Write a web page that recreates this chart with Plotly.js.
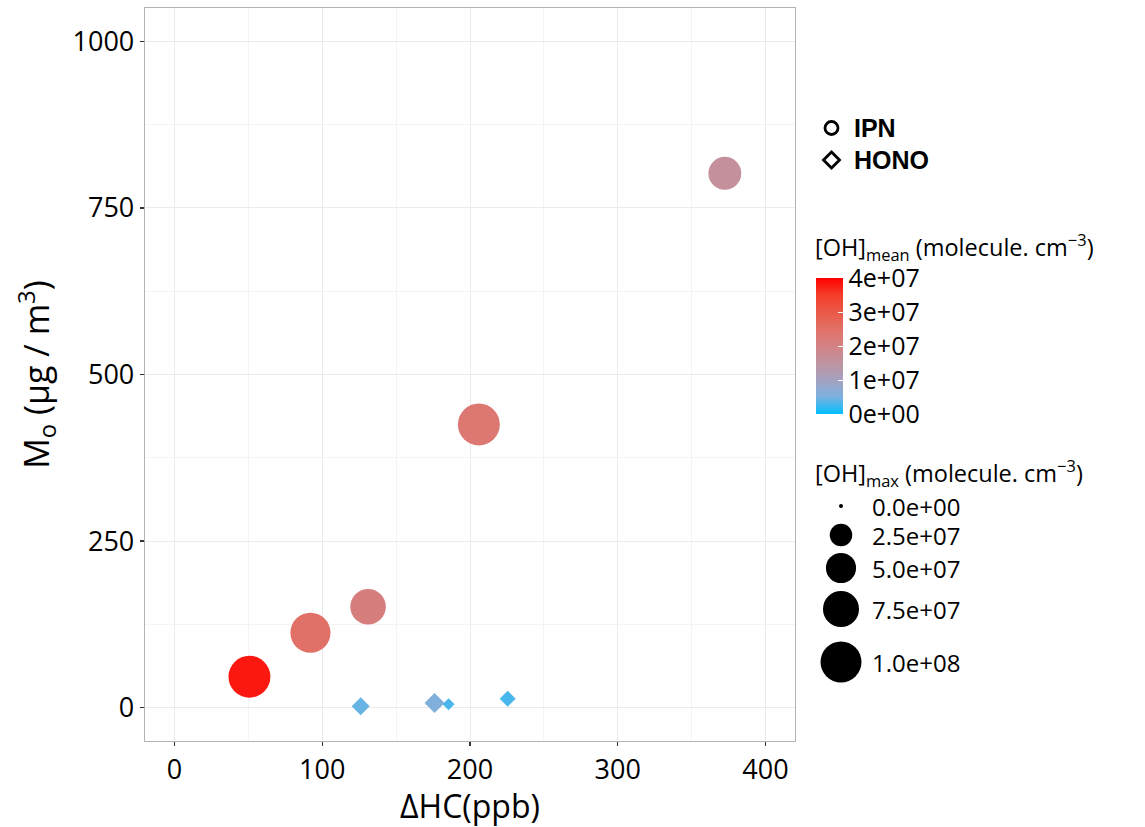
<!DOCTYPE html>
<html><head><meta charset="utf-8">
<script src="https://cdn.plot.ly/plotly-3.0.1.min.js"></script>
<style>body{margin:0;background:#fff}</style>
</head><body><div id="chart" style="width:1145px;height:827px"></div>
<script>
// ---- data ----
const ipnHC = [50.7, 92, 131, 206, 372.5];
const ipnMo = [46.5, 112.5, 151.5, 425, 802];
const ipnOHmean = [3.8e7, 2.48e7, 2.1e7, 2.3e7, 1.6e7];
const ipnOHmax = [1.05e8, 0.95e8, 0.73e8, 1.05e8, 0.61e8];
const honoHC = [126, 176, 185.5, 225.5];
const honoMo = [2, 7, 5, 13.5];
const honoOHmean = [4.2e6, 5.6e6, 3.0e6, 3.0e6];
const honoOHmax = [1.43e7, 1.87e7, 0.47e7, 1.05e7];
const seriesNames = ['IPN', 'HONO'];
const colorTicks = [0, 1e7, 2e7, 3e7, 4e7];
const colorTickText = ['0e+00', '1e+07', '2e+07', '3e+07', '4e+07'];
const sizeBreaks = [0, 2.5e7, 5e7, 7.5e7, 1e8];
const sizeBreakText = ['0.0e+00', '2.5e+07', '5.0e+07', '7.5e+07', '1.0e+08'];

// ---- scales ----
const FONT = 'Open Sans, Noto Sans, sans-serif';
const W = 1145, H = 827, ML = 145, MR = 350, MT = 8, MB = 86;
const PW = W - ML - MR, PH = H - MT - MB;
const px2x = p => (p - ML) / PW;
const px2y = p => (H - MB - p) / PH;
const sizeMax = 1e8;
const diam = v => 4 + 37 * Math.sqrt(Math.max(v, 0) / sizeMax); // ggplot area scale, range 4..41 px
const colorscale = [
  [0, '#00BFFF'], [0.125, '#7BB1DF'], [0.25, '#A4A2C0'], [0.375, '#BF93A1'],
  [0.5, '#D38284'], [0.625, '#E27066'], [0.75, '#EA5847'], [0.875, '#F53D2A'], [1, '#FF0000']
];
const cmin = 0, cmax = 4e7;

const traces = [
  {
    type: 'scatter', mode: 'markers', x: ipnHC, y: ipnMo, name: seriesNames[0], showlegend: false, hoverinfo: 'x+y',
    marker: {
      symbol: 'circle', size: ipnOHmax.map(diam), color: ipnOHmean,
      colorscale: colorscale, cmin: cmin, cmax: cmax, line: {width: 0}, opacity: 1,
      showscale: true,
      colorbar: {
        x: px2x(816), xanchor: 'left', xref: 'paper',
        y: px2y(346), yanchor: 'middle', yref: 'paper',
        len: 136, lenmode: 'pixels', thickness: 27, thicknessmode: 'pixels',
        outlinewidth: 0, ticks: 'inside', tickcolor: '#ffffff', ticklen: 5, tickwidth: 1,
        tickvals: colorTicks, ticktext: colorTickText, ypad: 0, xpad: 0,
        tickfont: {family: FONT, size: 25, color: '#000'}
      }
    }
  },
  {
    type: 'scatter', mode: 'markers', x: honoHC, y: honoMo, name: seriesNames[1], showlegend: false, hoverinfo: 'x+y',
    marker: {
      symbol: 'diamond', size: honoOHmax.map(v => diam(v) / 1.3), color: honoOHmean,
      colorscale: colorscale, cmin: cmin, cmax: cmax, line: {width: 0}, opacity: 1, showscale: false
    }
  }
];

// size legend keys
const sizeKeyY = [506, 535, 568, 609, 662];
const shapes = sizeBreaks.map((v, i) => {
  const d = diam(v);
  return {
    type: 'circle', xref: 'paper', yref: 'paper', xsizemode: 'pixel', ysizemode: 'pixel',
    xanchor: px2x(841), yanchor: px2y(sizeKeyY[i]),
    x0: -d / 2, x1: d / 2, y0: -d / 2, y1: d / 2,
    fillcolor: '#000', line: {width: 0}
  };
});
// shape legend keys (open circle, open diamond)
const shapeKeyY = [128, 160];
shapes.push({
  type: 'circle', xref: 'paper', yref: 'paper', xsizemode: 'pixel', ysizemode: 'pixel',
  xanchor: px2x(831.5), yanchor: px2y(shapeKeyY[0]),
  x0: -6.5, x1: 6.5, y0: -6.5, y1: 6.5, fillcolor: 'rgba(0,0,0,0)', line: {width: 2.8, color: '#000'}
});
shapes.push({
  type: 'path', xref: 'paper', yref: 'paper', xsizemode: 'pixel', ysizemode: 'pixel',
  xanchor: px2x(831.5), yanchor: px2y(shapeKeyY[1]),
  path: 'M -8 0 L 0 8 L 8 0 L 0 -8 Z', fillcolor: 'rgba(0,0,0,0)', line: {width: 2.8, color: '#000'}
});

const annotations = [
  {
    text: '[OH]<sub>mean</sub> (molecule. cm<sup>−3</sup>)', xref: 'paper', yref: 'paper',
    x: px2x(813), y: px2y(247), xanchor: 'left', yanchor: 'middle', showarrow: false,
    font: {family: FONT, size: 23.5, color: '#000'}
  },
  {
    text: '[OH]<sub>max</sub> (molecule. cm<sup>−3</sup>)', xref: 'paper', yref: 'paper',
    x: px2x(813), y: px2y(473), xanchor: 'left', yanchor: 'middle', showarrow: false,
    font: {family: FONT, size: 23.5, color: '#000'}
  }
].concat(sizeBreakText.map((t, i) => ({
  text: t, xref: 'paper', yref: 'paper', x: px2x(870), y: px2y(sizeKeyY[i]),
  xanchor: 'left', yanchor: 'middle', showarrow: false,
  font: {family: FONT, size: 24, color: '#000'}
}))).concat(seriesNames.map((t, i) => ({
  text: '<b>' + t + '</b>', xref: 'paper', yref: 'paper', x: px2x(852), y: px2y(shapeKeyY[i]),
  xanchor: 'left', yanchor: 'middle', showarrow: false,
  font: {family: 'Liberation Sans, Arial, sans-serif', size: 25, color: '#000'}
})));

const layout = {
  width: W, height: H,
  margin: {l: ML, r: MR, t: MT, b: MB, pad: 0},
  paper_bgcolor: '#fff', plot_bgcolor: '#fff',
  font: {family: FONT, color: '#000'},
  showlegend: false,
  xaxis: {
    range: [-20, 420], tickvals: [0, 100, 200, 300, 400], ticktext: ['0', '100', '200', '300', '400'],
    showgrid: true, gridcolor: '#EBEBEB', gridwidth: 1, zeroline: false,
    minor: {tickvals: [50, 150, 250, 350], showgrid: true, gridcolor: '#F4F4F4', gridwidth: 1, ticks: ''},
    ticks: 'outside', ticklen: 4, tickwidth: 1.3, tickcolor: '#333',
    showline: true, mirror: true, linecolor: '#B3B3B3', linewidth: 1.3,
    tickfont: {family: FONT, size: 27, color: '#000'},
    title: {text: 'ΔHC(ppb)', font: {family: FONT, size: 32, color: '#000'}, standoff: 4},
    automargin: false
  },
  yaxis: {
    range: [-50, 1050], tickvals: [0, 250, 500, 750, 1000], ticktext: ['0', '250', '500', '750', '1000'],
    showgrid: true, gridcolor: '#EBEBEB', gridwidth: 1, zeroline: false,
    minor: {tickvals: [125, 375, 625, 875], showgrid: true, gridcolor: '#F4F4F4', gridwidth: 1, ticks: ''},
    ticks: 'outside', ticklen: 4, tickwidth: 1.3, tickcolor: '#333',
    showline: true, mirror: true, linecolor: '#B3B3B3', linewidth: 1.3,
    tickfont: {family: FONT, size: 27, color: '#000'},
    title: {text: 'M<sub>o</sub> (μg / m<sup>3</sup>)', font: {family: FONT, size: 34, color: '#000'}, standoff: 12},
    automargin: false
  },
  shapes: shapes,
  annotations: annotations
};

Plotly.newPlot('chart', traces, layout, {displayModeBar: false, staticPlot: true});
</script>
</body></html>
